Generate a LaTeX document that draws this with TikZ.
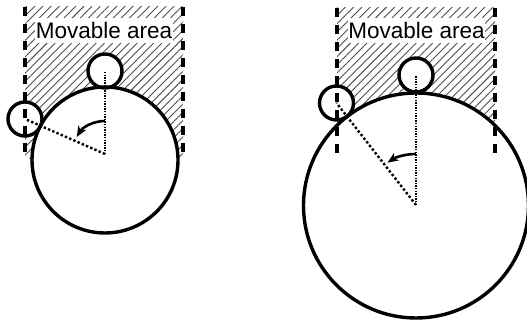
\documentclass[tikz,border=0pt]{standalone}
\usepackage{fontspec}
\setmainfont{Liberation Sans}
\usetikzlibrary{arrows.meta,patterns.meta,calc}
\begin{document}
\begin{tikzpicture}[x=1pt,y=1pt,
  bigc/.style={draw=black,line width=3.4pt},
  smallc/.style={draw=black,line width=3.4pt},
  whitefill/.style={fill=white},
  bound/.style={line width=3.4pt,dash pattern=on 9pt off 8pt},
  hatch/.style={pattern={Lines[angle=45,distance=5.8pt,line width=0.9pt]},pattern color=black!70},
  radthin/.style={line width=1.4pt,dash pattern=on 1.3pt off 1.3pt},
  radthick/.style={line width=2.4pt,dash pattern=on 2.4pt off 2.2pt},
  turn/.style={line width=2.6pt,-{Stealth[length=11pt,width=9pt]}},
  lbl/.style={fill=white,inner xsep=0.5pt,inner ysep=0pt,text height=20pt,text depth=5pt,font=\fontsize{22.5}{27}\selectfont}
]
\useasboundingbox (0,0) rectangle (527,328);
% ---------- left figure ----------
\coordinate (LC) at (105,168);
\coordinate (LO) at (105,174);
\coordinate (LT) at (105,257);
\coordinate (LL) at (25,209);
\coordinate (LdA1) at (25,321); \coordinate (LdA2) at (25,169);
\coordinate (LdB1) at (183,321); \coordinate (LdB2) at (183,169);
\fill[hatch] (25,321) rectangle (183,169);
\fill[whitefill] (LC) circle[radius=73];
\node[lbl] (Llbl) at (104,297) {Movable area};
\fill[whitefill] (LT) circle[radius=17];
\fill[whitefill] (LL) circle[radius=17];
\draw[bound] (LdA1) -- (LdA2);
\draw[bound] (LdB1) -- (LdB2);
\draw[bigc] (LC) circle[radius=73];
\node[smallc,circle,minimum size=34pt,inner sep=0pt] (Ltop) at (LT) {};
\node[smallc,circle,minimum size=34pt,inner sep=0pt] (Lleft) at (LL) {};
\draw[radthin] (LO) -- (LT);
\draw[radthick] (LO) -- (LL);
\draw[turn] ($(LO)+(90:33)$) arc[start angle=90,end angle=149,radius=33];
% ---------- right figure ----------
\coordinate (RC) at (416,122.5);
\coordinate (RO) at (416,123);
\coordinate (RT) at (416,253);
\coordinate (RL) at (336.5,225);
\coordinate (RdA1) at (337,320); \coordinate (RdA2) at (337,168);
\coordinate (RdB1) at (495,320); \coordinate (RdB2) at (495,168);
\fill[hatch] (337,320) rectangle (495,168);
\fill[whitefill] (RC) circle[radius=112.5];
\node[lbl] (Rlbl) at (416.5,297) {Movable area};
\fill[whitefill] (RT) circle[radius=17];
\fill[whitefill] (RL) circle[radius=17];
\draw[bound] (RdA1) -- (RdA2);
\draw[bound] (RdB1) -- (RdB2);
\draw[bigc] (RC) circle[radius=112.5];
\node[smallc,circle,minimum size=34pt,inner sep=0pt] (Rtop) at (RT) {};
\node[smallc,circle,minimum size=34pt,inner sep=0pt] (Rleft) at (RL) {};
\draw[radthin] (RO) -- (RT);
\draw[radthick] (RO) -- (RL);
\draw[turn] ($(RO)+(90:51)$) arc[start angle=90,end angle=124,radius=51];
\end{tikzpicture}
\end{document}
